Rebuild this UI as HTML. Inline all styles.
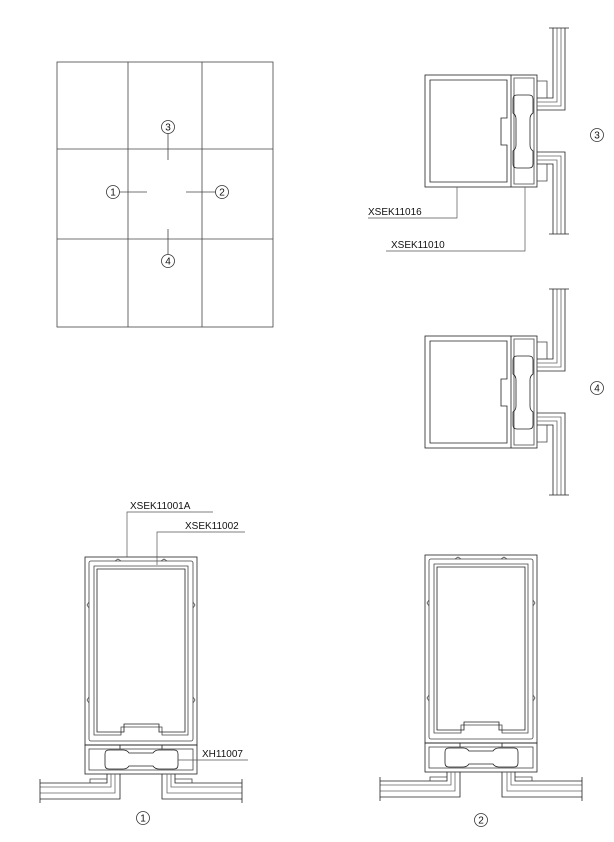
<!DOCTYPE html>
<html><head><meta charset="utf-8"><style>
html,body{margin:0;padding:0;background:#fff}
svg{display:block}
text{font-family:"Liberation Sans",sans-serif;font-size:10px;fill:#111}
</style></head><body>
<svg width="614" height="842" viewBox="0 0 614 842" xmlns="http://www.w3.org/2000/svg">
<defs>
<g id="c"><circle r="6.5" fill="#fff" stroke="#333" stroke-width="0.8"/></g>
<g id="mul" fill="none" stroke="#222" stroke-width="0.8">
  <rect x="0" y="0" width="112" height="188"/>
  <rect x="4" y="4" width="104" height="180" rx="2" stroke="#444"/>
  <path d="M9 9 H103 V178 H77 V170 H36 V178 H9 Z" stroke="#444"/>
  <path d="M12 12 H100 V175 H74 V167 H39 V175 H12 Z"/>
  <path d="M30 4 l3 -2 l3 2 M76 4 l3 -2 l3 2 M4 45 l-2 3 l2 3 M108 45 l2 3 l-2 3 M4 140 l-2 3 l2 3 M108 140 l2 3 l-2 3" stroke="#555"/>
  <rect x="0" y="188" width="112" height="29"/>
  <rect x="4" y="192" width="104" height="21" stroke="#444"/>
  <path d="M24 193 H38 Q42 193 44 196 H68 Q70 193 74 193 H89 Q93 193 93 197 V208 Q93 212 89 212 H74 Q70 212 68 209 H44 Q42 212 38 212 H24 Q20 212 20 208 V197 Q20 193 24 193 Z"/>
  <path d="M35 188 V192 M77 188 V192" />
  <g id="wl">
    <path d="M-45 226 H22 V217"/>
    <path d="M-45 230 H26 V217" stroke="#666"/>
    <path d="M-45 236 H30 V217" stroke="#666"/>
    <path d="M-45 242 H35 V217"/>
    <path d="M5 226 V222 H22" stroke="#444"/>
    <path d="M-45 222 V246"/>
  </g>
  <use href="#wl" transform="translate(112,0) scale(-1,1)"/>
</g>
<g id="tr" fill="none" stroke="#222" stroke-width="0.8">
  <rect x="0" y="0" width="112" height="112"/>
  <line x1="86" y1="0" x2="86" y2="112"/>
  <path d="M5 5 H82 V43 H76 V70 H82 V107 H5 Z"/>
  <path d="M89 3 H109 V109 H89 Z" stroke="#444"/>
  <path d="M92 20 H104 Q108 20 108 24 V38 Q105 40 105 44 V70 Q105 74 108 76 V89 Q108 93 104 93 H92 Q88 93 88 89 V76 Q91 74 91 70 V44 Q91 40 88 38 V24 Q88 20 92 20 Z"/>
  <g id="tw">
    <path d="M128 -47 V23 H112"/>
    <path d="M132 -47 V27 H112" stroke="#666"/>
    <path d="M136 -47 V31 H112" stroke="#666"/>
    <path d="M140 -47 V35 H112"/>
    <path d="M112 6 H122 V23" stroke="#444"/>
    <path d="M124 -47 H144"/>
  </g>
  <use href="#tw" transform="translate(0,112) scale(1,-1)"/>
</g>
</defs>

<g fill="none" stroke="#444" stroke-width="0.8">
  <rect x="57" y="62" width="216" height="265"/>
  <line x1="128" y1="62" x2="128" y2="327"/>
  <line x1="202" y1="62" x2="202" y2="327"/>
  <line x1="57" y1="149" x2="273" y2="149"/>
  <line x1="57" y1="239" x2="273" y2="239"/>
  <line x1="168" y1="133" x2="168" y2="160"/>
  <line x1="168" y1="229" x2="168" y2="255"/>
  <line x1="119" y1="192" x2="147" y2="192"/>
  <line x1="186" y1="192" x2="216" y2="192"/>
</g>
<use href="#c" x="168" y="127"/><text x="168" y="130.5" text-anchor="middle" font-size="9">3</text>
<use href="#c" x="168" y="261"/><text x="168" y="264.5" text-anchor="middle" font-size="9">4</text>
<use href="#c" x="113" y="192"/><text x="113" y="195.5" text-anchor="middle" font-size="9">1</text>
<use href="#c" x="222" y="192"/><text x="222" y="195.5" text-anchor="middle" font-size="9">2</text>

<use href="#tr" transform="translate(425,75)"/>
<use href="#c" x="597" y="135"/><text x="597" y="138.5" text-anchor="middle" font-size="9">3</text>
<g fill="none" stroke="#555" stroke-width="0.7">
  <path d="M457 187 V218 H368"/>
  <path d="M525 187 V251 H386"/>
</g>
<text x="368" y="215">XSEK11016</text>
<text x="391" y="248">XSEK11010</text>

<use href="#tr" transform="translate(425,336)"/>
<use href="#c" x="597" y="388"/><text x="597" y="391.5" text-anchor="middle" font-size="9">4</text>

<use href="#mul" transform="translate(85,557)"/>
<use href="#c" x="143" y="818"/><text x="143" y="821.5" text-anchor="middle" font-size="9">1</text>
<g fill="none" stroke="#555" stroke-width="0.7">
  <path d="M127 557 V512 H213"/>
  <path d="M157 565 V532 H245"/>
  <path d="M178 760 H248"/>
</g>
<text x="130" y="509">XSEK11001A</text>
<text x="185" y="529">XSEK11002</text>
<text x="202" y="757">XH11007</text>

<use href="#mul" transform="translate(425,555)"/>
<use href="#c" x="481" y="820"/><text x="481" y="823.5" text-anchor="middle" font-size="9">2</text>
</svg>
</body></html>
